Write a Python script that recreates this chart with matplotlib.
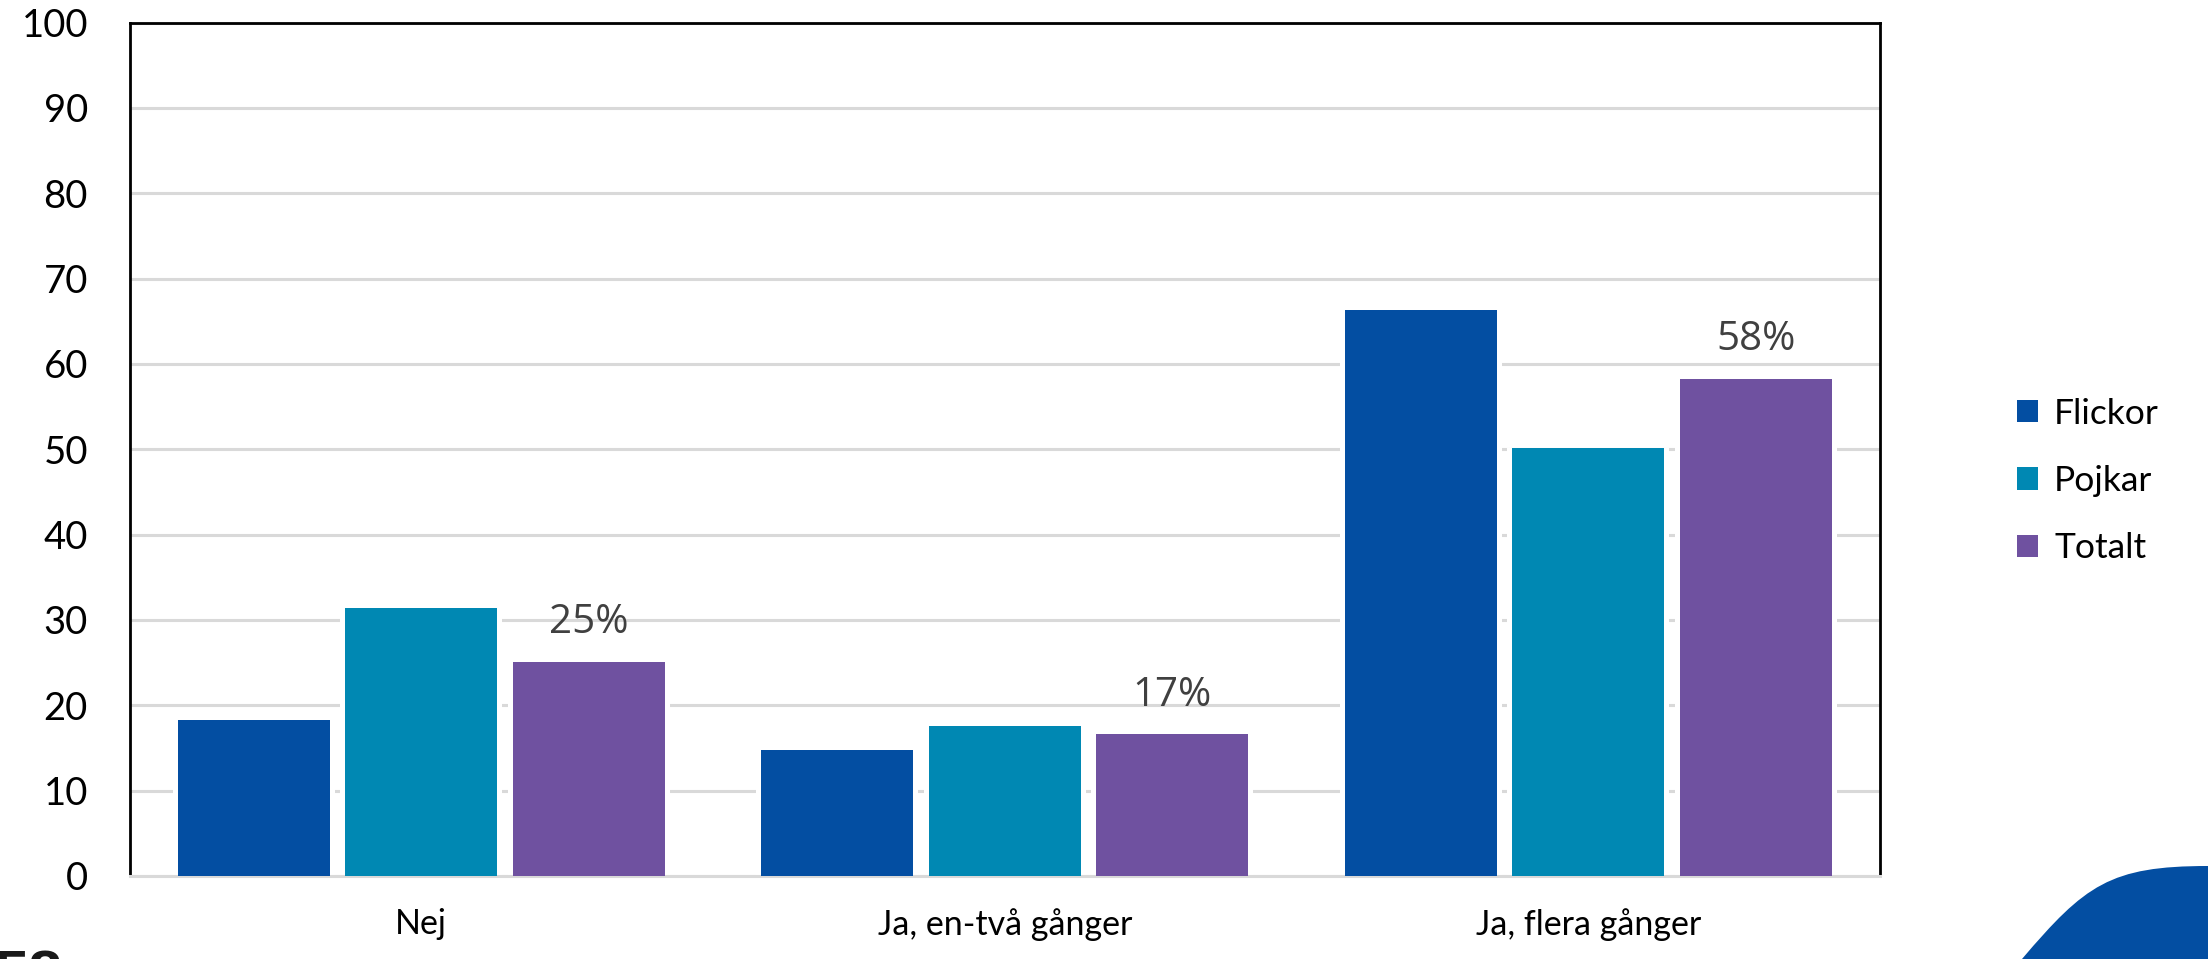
import matplotlib
matplotlib.use('Agg')
import matplotlib.pyplot as plt
from matplotlib.path import Path
from matplotlib.patches import PathPatch, Patch
import numpy as np

categories = ['Nej', 'Ja, en-två gånger', 'Ja, flera gånger']
flickor = [18.3, 14.8, 66.3]
pojkar = [31.4, 17.6, 50.2]
totalt = [25.1, 16.6, 58.2]
totalt_labels = ['25%', '17%', '58%']
series_names = ['Flickor', 'Pojkar', 'Totalt']
colors = ['#034EA2', '#0088B3', '#6F51A0']

W, H = 2208, 959
fig = plt.figure(figsize=(W / 100, H / 100), dpi=100)
ax = fig.add_axes([129.6 / W, 1 - 876 / H, (1880 - 129.6) / W, (876 - 22.5) / H])

font = 'Open Sans'
x = np.arange(len(categories))
bw = 0.26
step = 0.287
halo = 0.009

for i, (vals, col) in enumerate(zip([flickor, pojkar, totalt], colors)):
    pos = x + (i - 1) * step
    # white halo so gridlines stop short of the bars
    ax.bar(pos, vals, width=bw + 2 * halo, color='white', zorder=2)
    ax.bar(pos, vals, width=bw, color=col, zorder=3)

for xi, v, lab in zip(x, totalt, totalt_labels):
    ax.text(xi + step, v + 2.2, lab, ha='center', va='bottom',
            fontsize=29, color='#404040', family=font)

ax.set_xlim(-0.5, 2.5)
ax.set_ylim(0, 100)
ax.set_yticks(range(0, 101, 10))
ax.yaxis.grid(True, color='#d9d9d9', linewidth=2.2, zorder=0)
ax.set_axisbelow(True)
ax.set_xticks(x)
ax.set_xticklabels(categories, fontsize=24.5, family='Lato')
for t in ax.get_yticklabels():
    t.set_fontsize(27.5)
    t.set_family('Lato')
ax.tick_params(axis='both', length=0)
ax.tick_params(axis='y', pad=30)
ax.tick_params(axis='x', pad=23)

for s in ['left', 'top', 'right']:
    ax.spines[s].set_color('black')
    ax.spines[s].set_linewidth(2)
ax.spines['bottom'].set_color('#d9d9d9')
ax.spines['bottom'].set_linewidth(2.2)

handles = [Patch(facecolor=c, edgecolor='none') for c in colors]
fig.legend(handles, series_names, loc='center left',
           bbox_to_anchor=(2017 / W, 1 - 481 / H), frameon=False,
           prop={'family': 'Lato', 'size': 25.5}, handlelength=0.6,
           handleheight=0.6, handletextpad=0.45, labelspacing=1.0,
           borderpad=0, borderaxespad=0)

# decorative shape bottom right
verts = [(2022, 959), (2085, 885), (2110, 866), (2208, 866), (2208, 959), (2022, 959)]
verts = [(vx / W, 1 - vy / H) for vx, vy in verts]
codes = [Path.MOVETO, Path.CURVE4, Path.CURVE4, Path.CURVE4, Path.LINETO, Path.CLOSEPOLY]
fig.patches.append(PathPatch(Path(verts, codes), facecolor='#034EA2',
                             edgecolor='none', transform=fig.transFigure))

# cut-off page number bottom left
fig.text(-6 / W, 1 - 950 / H, '58', fontsize=44, fontweight='bold',
         color='#1a1a1a', va='top', ha='left', family='Liberation Sans')

fig.savefig('out.png', dpi=100)
